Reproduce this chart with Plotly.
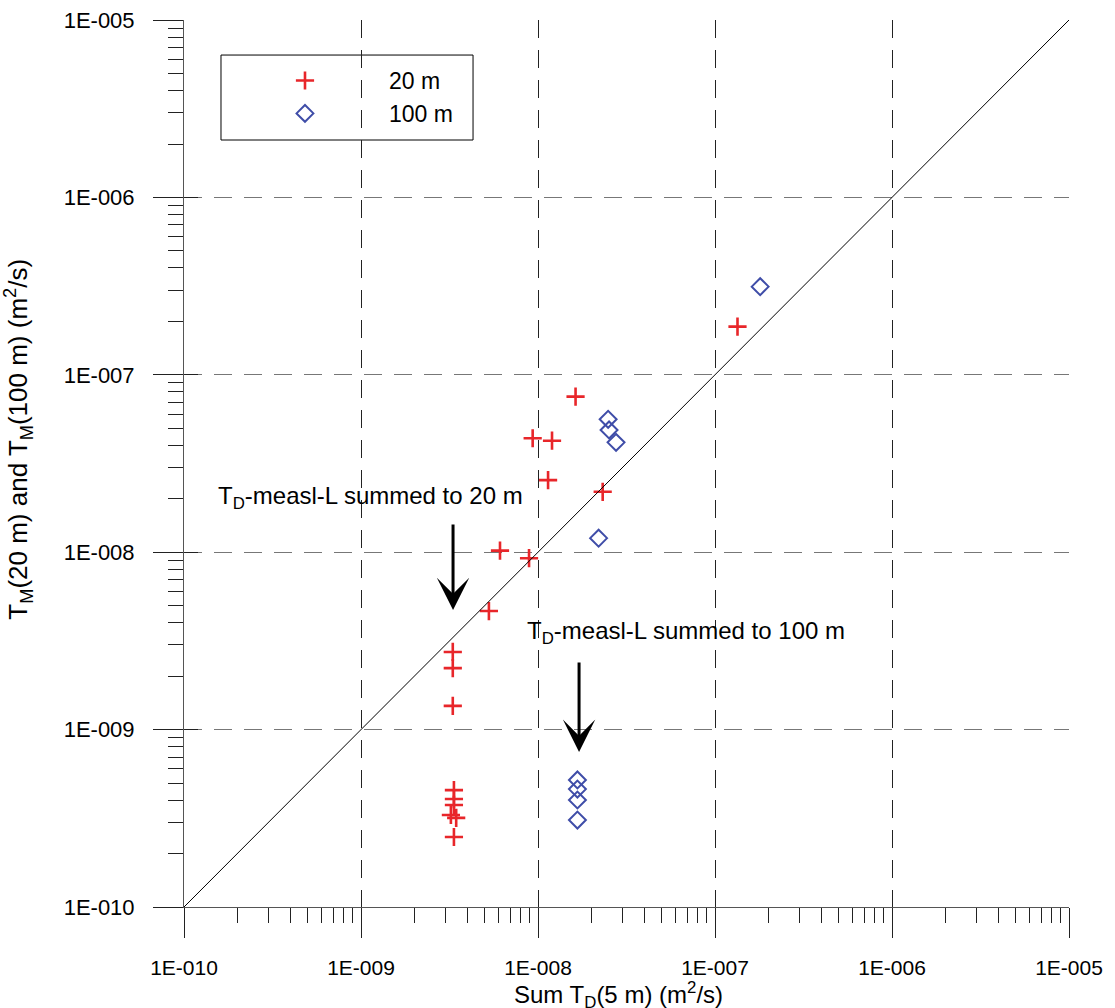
import plotly.graph_objects as go

# ---------------- data ----------------
x_20m = [1.34e-7, 1.63e-8, 9.33e-9, 1.20e-8, 1.14e-8, 2.32e-8, 6.1e-9, 8.9e-9, 5.28e-9,
         3.3e-9, 3.3e-9, 3.3e-9, 3.35e-9, 3.35e-9, 3.35e-9, 3.22e-9, 3.45e-9, 3.35e-9]
y_20m = [1.87e-7, 7.53e-8, 4.39e-8, 4.25e-8, 2.55e-8, 2.19e-8, 1.02e-8, 9.25e-9, 4.66e-9,
         2.74e-9, 2.22e-9, 1.36e-9, 4.56e-10, 4.06e-10, 3.76e-10, 3.30e-10, 3.18e-10, 2.48e-10]

x_100m = [1.80e-7, 2.49e-8, 2.52e-8, 2.76e-8, 2.20e-8, 1.67e-8, 1.67e-8, 1.67e-8, 1.67e-8]
y_100m = [3.14e-7, 5.61e-8, 4.89e-8, 4.16e-8, 1.20e-8, 5.2e-10, 4.62e-10, 4.01e-10, 3.09e-10]

diag_x = [1e-10, 1e-5]
diag_y = [1e-10, 1e-5]

tick_vals = [1e-10, 1e-9, 1e-8, 1e-7, 1e-6, 1e-5]
tick_text = ["1E-010", "1E-009", "1E-008", "1E-007", "1E-006", "1E-005"]

# annotation anchors (log10 units, as plotly needs for log axes)
label_texts = ["T<sub>D</sub>-measl-L summed to 20 m", "T<sub>D</sub>-measl-L summed to 100 m"]
label_pos = [(-9.819, -7.689), (-8.073, -8.450)]
arrow_tips = [(-8.480, -8.326), (-7.768, -9.126)]
arrow_len = [-87, -91]

RED = "#E8262A"
BLUE = "#3F4DA8"
FONT = "Liberation Sans, Arial, sans-serif"

fig = go.Figure()

fig.add_trace(go.Scatter(
    x=diag_x, y=diag_y, mode="lines", xaxis="x2", yaxis="y2",
    line=dict(color="black", width=1), showlegend=False, hoverinfo="skip"))

fig.add_trace(go.Scatter(
    x=x_20m, y=y_20m, mode="markers", name="20 m",
    marker=dict(symbol="cross-thin", size=13, color=RED,
                line=dict(color=RED, width=2.6))))

fig.add_trace(go.Scatter(
    x=x_100m, y=y_100m, mode="markers", name="100 m",
    marker=dict(symbol="diamond-open", size=13, color=BLUE,
                line=dict(color=BLUE, width=2))))

common_axis = dict(
    type="log", range=[-10, -5], showline=True, linecolor="#555", linewidth=1,
    zeroline=False, mirror=False, automargin=False,
)

fig.update_layout(
    width=1115, height=1008,
    margin=dict(l=184, r=46, t=20, b=101, autoexpand=False),
    paper_bgcolor="white", plot_bgcolor="white",
    font=dict(family=FONT, size=20, color="black"),
    xaxis=dict(
        **common_axis,
        tickvals=tick_vals, ticktext=tick_text,
        ticks="outside", ticklen=30, tickcolor="#222", tickwidth=1,
        ticklabelstandoff=12,
        tickfont=dict(size=21, family=FONT),
        showgrid=True, gridcolor="#222", gridwidth=1, griddash="18px,12px",
        minor=dict(ticks="outside", ticklen=15, tickcolor="#222", dtick="D1", showgrid=False),
    ),
    yaxis=dict(
        **common_axis,
        tickvals=tick_vals, ticktext=tick_text,
        ticks="outside", ticklen=30, tickcolor="#222", tickwidth=1,
        ticklabelstandoff=14,
        tickfont=dict(size=22, family=FONT),
        showgrid=True, gridcolor="#777", gridwidth=1, griddash="18px,12px",
        minor=dict(ticks="outside", ticklen=15, tickcolor="#222", dtick="D1", showgrid=False),
    ),
    xaxis2=dict(
        **common_axis, overlaying="x", anchor="y2", matches="x",
        tickvals=tick_vals, showticklabels=False,
        ticks="inside", ticklen=14, tickcolor="#222", showgrid=False,
    ),
    yaxis2=dict(
        **common_axis, overlaying="y", anchor="x2", matches="y",
        tickvals=tick_vals, showticklabels=False,
        ticks="inside", ticklen=14, tickcolor="#222", showgrid=False,
    ),
    legend=dict(
        x=0.0418, y=0.956, xanchor="left", yanchor="top",
        borderwidth=0, bgcolor="rgba(0,0,0,0)",
        font=dict(size=23, family=FONT), itemwidth=158,
        tracegroupgap=0,
    ),
    showlegend=True,
)

# legend frame
fig.add_shape(type="rect", xref="paper", yref="paper",
              x0=0.0418, x1=0.3266, y0=0.8647, y1=0.9605,
              line=dict(color="black", width=1), fillcolor="white", layer="below")

annotations = []
for txt, (lx, ly) in zip(label_texts, label_pos):
    annotations.append(dict(
        x=lx, y=ly, xref="x", yref="y", text=txt, showarrow=False,
        xanchor="left", yanchor="middle", font=dict(size=24, family=FONT, color="black")))
for (tx, ty), al in zip(arrow_tips, arrow_len):
    annotations.append(dict(
        x=tx, y=ty, xref="x", yref="y", text="", showarrow=True,
        ax=0, ay=al, arrowhead=3, arrowwidth=3, arrowsize=1.8, arrowcolor="black",
        standoff=0))
# axis titles
annotations.append(dict(
    x=0.4904, y=-0.0992, xref="paper", yref="paper", showarrow=False,
    xanchor="center", yanchor="middle",
    text="Sum T<sub>D</sub>(5 m) (m<sup>2</sup>/s)", font=dict(size=24, family=FONT)))
annotations.append(dict(
    x=-0.1876, y=0.528, xref="paper", yref="paper", showarrow=False,
    xanchor="center", yanchor="middle", textangle=-90,
    text="T<sub>M</sub>(20 m) and T<sub>M</sub>(100 m) (m<sup>2</sup>/s)",
    font=dict(size=26, family=FONT)))
fig.update_layout(annotations=annotations)

fig.write_html(
    "out.html",
    config={"displayModeBar": False},
    post_script="document.body.style.margin='0';document.body.style.overflow='hidden';",
)
